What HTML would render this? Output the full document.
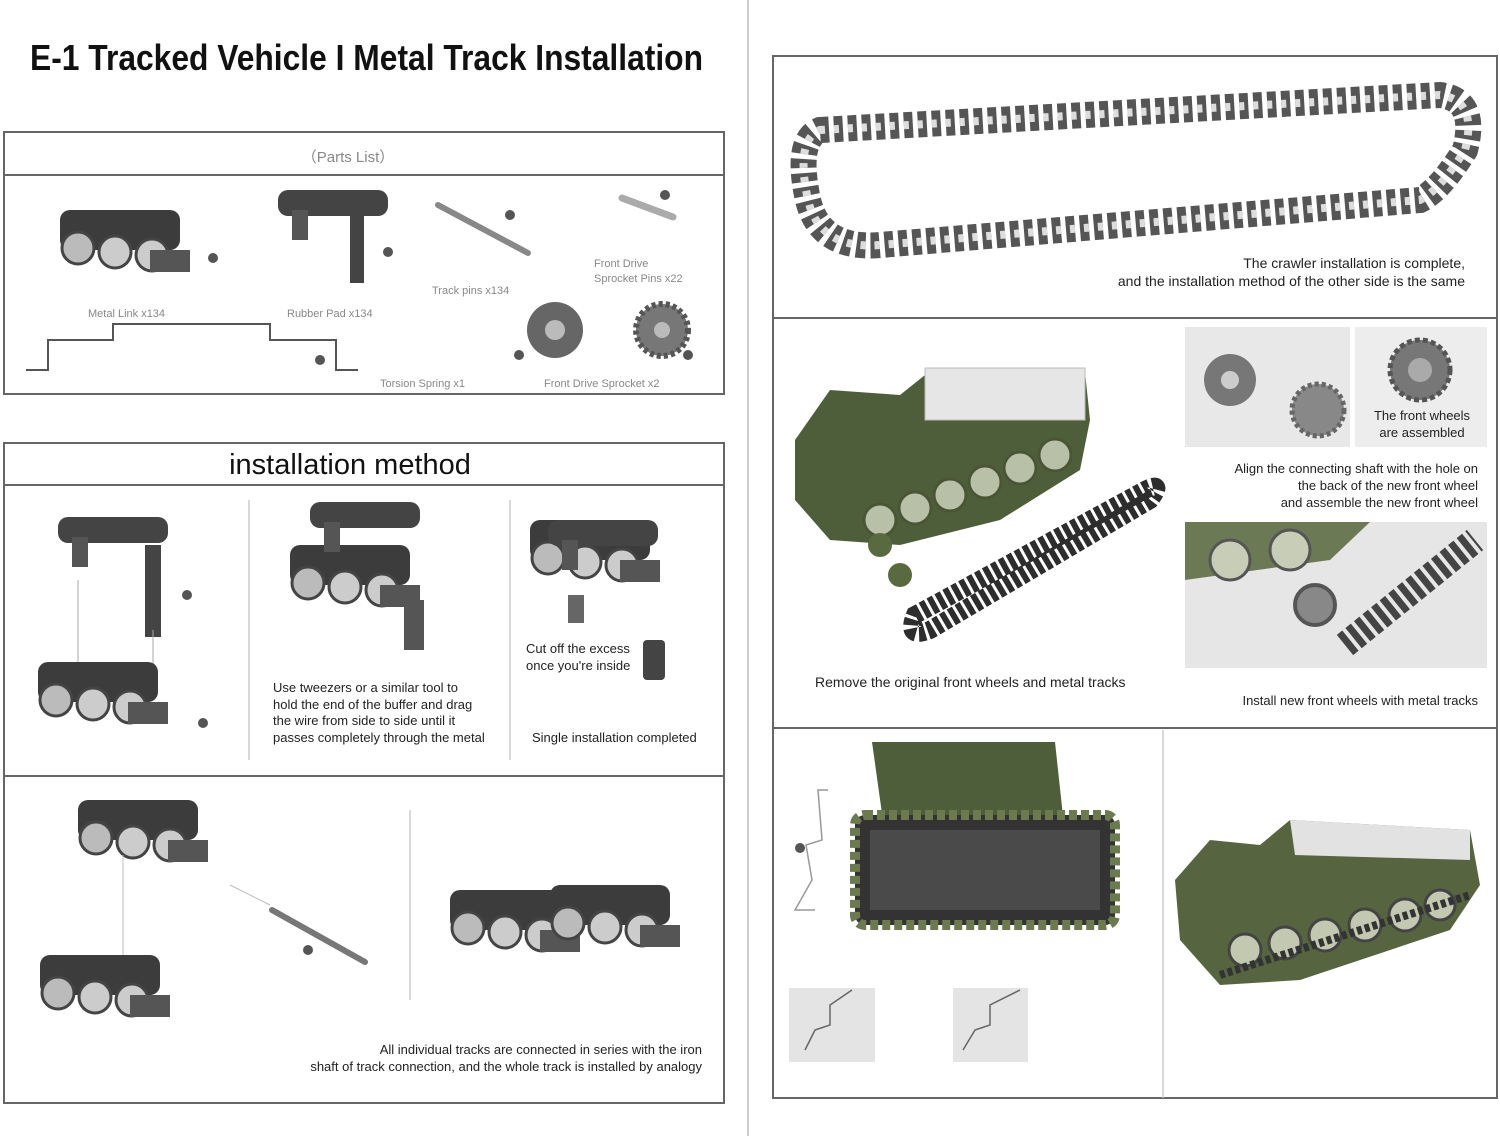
<!DOCTYPE html>
<html><head><meta charset="utf-8"><style>
html,body{margin:0;padding:0;background:#fff;}
svg{display:block;font-family:"Liberation Sans",sans-serif;}
</style></head><body>
<svg width="1500" height="1136" viewBox="0 0 1500 1136" xmlns="http://www.w3.org/2000/svg">
<defs>
<g id="link">
 <rect x="0" y="0" width="120" height="40" rx="10" fill="#3c3c3c"/>
 <circle cx="18" cy="38" r="16" fill="#bbb" stroke="#444" stroke-width="3"/>
 <circle cx="55" cy="42" r="16" fill="#ccc" stroke="#444" stroke-width="3"/>
 <circle cx="92" cy="45" r="16" fill="#ccc" stroke="#444" stroke-width="3"/>
 <rect x="90" y="40" width="40" height="22" fill="#555"/>
</g>
<g id="pad">
 <rect x="0" y="0" width="110" height="26" rx="10" fill="#444"/>
 <rect x="14" y="20" width="16" height="30" fill="#555"/>
</g>
</defs>
<!-- title -->
<text x="30" y="70" font-size="36" font-weight="bold" textLength="673" lengthAdjust="spacingAndGlyphs" fill="#111">E-1 Tracked Vehicle I Metal Track Installation</text>
<line x1="748" y1="0" x2="748" y2="1136" stroke="#ccc" stroke-width="2"/>

<!-- Parts list box -->
<rect x="4" y="132" width="720" height="262" fill="none" stroke="#666" stroke-width="2"/>
<line x1="4" y1="175" x2="724" y2="175" stroke="#666" stroke-width="2"/>
<text x="348" y="162" font-size="15" fill="#888" text-anchor="middle">（Parts List）</text>
<use href="#link" x="60" y="210"/>
<circle cx="213" cy="258" r="5" fill="#555"/>
<use href="#pad" x="278" y="190"/>
<rect x="350" y="215" width="14" height="68" fill="#444"/>
<circle cx="388" cy="252" r="5" fill="#555"/>
<line x1="438" y1="205" x2="528" y2="253" stroke="#888" stroke-width="6" stroke-linecap="round"/>
<circle cx="510" cy="215" r="5" fill="#555"/>
<line x1="622" y1="198" x2="673" y2="217" stroke="#aaa" stroke-width="7" stroke-linecap="round"/>
<circle cx="665" cy="195" r="5" fill="#555"/>
<text x="88" y="317" font-size="11" fill="#888">Metal Link x134</text>
<text x="287" y="317" font-size="11" fill="#888">Rubber Pad x134</text>
<text x="432" y="294" font-size="11" fill="#888">Track pins x134</text>
<text x="594" y="267" font-size="11" fill="#888">Front Drive</text>
<text x="594" y="282" font-size="11" fill="#888">Sprocket Pins x22</text>
<polyline points="26,370 48,370 48,340 113,340 113,324 270,324 270,340 336,340 336,370 358,370" fill="none" stroke="#555" stroke-width="2"/>
<circle cx="320" cy="360" r="5" fill="#555"/>
<circle cx="555" cy="330" r="28" fill="#666"/><circle cx="555" cy="330" r="10" fill="#bbb"/>
<circle cx="519" cy="355" r="5" fill="#555"/>
<circle cx="662" cy="330" r="26" fill="#777" stroke="#555" stroke-width="6" stroke-dasharray="4 3"/><circle cx="662" cy="330" r="8" fill="#bbb"/>
<circle cx="688" cy="355" r="5" fill="#555"/>
<text x="380" y="387" font-size="11" fill="#888">Torsion Spring x1</text>
<text x="544" y="387" font-size="11" fill="#888">Front Drive Sprocket x2</text>

<!-- installation method -->
<rect x="4" y="443" width="720" height="660" fill="none" stroke="#666" stroke-width="2"/>
<line x1="4" y1="485" x2="724" y2="485" stroke="#666" stroke-width="2"/>
<line x1="4" y1="776" x2="724" y2="776" stroke="#666" stroke-width="2"/>
<text x="350" y="474" font-size="29" fill="#111" text-anchor="middle">installation method</text>
<line x1="249" y1="500" x2="249" y2="760" stroke="#ccc" stroke-width="1.5"/>
<line x1="510" y1="500" x2="510" y2="760" stroke="#ccc" stroke-width="1.5"/>
<line x1="410" y1="810" x2="410" y2="1000" stroke="#ccc" stroke-width="1.5"/>

<use href="#pad" x="58" y="517"/>
<rect x="145" y="545" width="16" height="92" fill="#444"/>
<line x1="78" y1="580" x2="78" y2="670" stroke="#aaa"/><line x1="153" y1="630" x2="153" y2="680" stroke="#aaa"/>
<circle cx="187" cy="595" r="5" fill="#555"/>
<use href="#link" x="38" y="662"/>
<circle cx="203" cy="723" r="5" fill="#555"/>

<use href="#link" x="290" y="545"/>
<use href="#pad" x="310" y="502"/>
<rect x="404" y="600" width="20" height="50" fill="#555"/>
<text x="273" y="692" font-size="13" fill="#222">Use tweezers or a similar tool to</text>
<text x="273" y="709" font-size="13" fill="#222">hold the end of the buffer and drag</text>
<text x="273" y="725" font-size="13" fill="#222">the wire from side to side until it</text>
<text x="273" y="742" font-size="13" fill="#222">passes completely through the metal</text>

<use href="#link" x="530" y="520"/>
<use href="#pad" x="548" y="520"/>
<rect x="568" y="595" width="16" height="28" fill="#666"/>
<rect x="643" y="640" width="22" height="40" rx="4" fill="#444"/>
<text x="526" y="653" font-size="13" fill="#222">Cut off the excess</text>
<text x="526" y="670" font-size="13" fill="#222">once you're inside</text>
<text x="532" y="742" font-size="13" fill="#222">Single installation completed</text>

<use href="#link" x="78" y="800"/>
<use href="#link" x="40" y="955"/>
<line x1="123" y1="855" x2="123" y2="955" stroke="#bbb"/>
<line x1="230" y1="885" x2="270" y2="905" stroke="#bbb"/>
<line x1="272" y1="910" x2="365" y2="962" stroke="#777" stroke-width="6" stroke-linecap="round"/>
<circle cx="308" cy="950" r="5" fill="#555"/>
<use href="#link" x="450" y="890"/>
<use href="#link" x="550" y="885"/>
<text x="702" y="1054" font-size="13" fill="#222" text-anchor="end">All individual tracks are connected in series with the iron</text>
<text x="702" y="1071" font-size="13" fill="#222" text-anchor="end">shaft of track connection, and the whole track is installed by analogy</text>

<!-- right panel -->
<rect x="773" y="56" width="724" height="1042" fill="none" stroke="#666" stroke-width="2"/>
<line x1="773" y1="318" x2="1497" y2="318" stroke="#666" stroke-width="2"/>
<line x1="773" y1="728" x2="1497" y2="728" stroke="#666" stroke-width="2"/>
<line x1="1163" y1="730" x2="1163" y2="1098" stroke="#ccc" stroke-width="1.5"/>
<path d="M820,130 L1440,95 Q1478,100 1465,150 Q1440,190 1420,200 L880,245 Q820,250 808,200 Q795,140 820,130 Z" fill="none" stroke="#555" stroke-width="26" stroke-dasharray="9 5"/>
<path d="M820,130 L1440,95 Q1478,100 1465,150 Q1440,190 1420,200 L880,245 Q820,250 808,200 Q795,140 820,130 Z" fill="none" stroke="#ddd" stroke-width="8" stroke-dasharray="5 9"/>
<text x="1465" y="268" font-size="14" fill="#222" text-anchor="end">The crawler installation is complete,</text>
<text x="1465" y="286" font-size="14" fill="#222" text-anchor="end">and the installation method of the other side is the same</text>

<!-- tank middle -->
<polygon points="795,440 830,390 900,395 925,375 1085,372 1090,420 1080,470 1000,520 900,545 830,540 795,500" fill="#4f5e3a"/>
<rect x="925" y="368" width="160" height="52" fill="#e6e6e6" stroke="#bbb"/>
<g fill="#b9c0a8" stroke="#4a5536" stroke-width="3">
<circle cx="880" cy="520" r="16"/><circle cx="915" cy="508" r="16"/><circle cx="950" cy="495" r="16"/><circle cx="985" cy="482" r="16"/><circle cx="1020" cy="468" r="16"/><circle cx="1055" cy="455" r="16"/>
</g>
<path d="M915,615 L1145,490 Q1165,480 1150,500 L930,630 Q905,640 915,615 Z" fill="none" stroke="#2d2d2d" stroke-width="18" stroke-dasharray="6 3"/>
<circle cx="880" cy="545" r="12" fill="#5a6a40"/><circle cx="900" cy="575" r="12" fill="#5a6a40"/>
<text x="815" y="687" font-size="14" fill="#222">Remove the original front wheels and metal tracks</text>

<rect x="1185" y="327" width="165" height="120" fill="#e8e8e8"/>
<rect x="1355" y="327" width="132" height="120" fill="#ededed"/>
<circle cx="1230" cy="380" r="26" fill="#777"/><circle cx="1230" cy="380" r="9" fill="#ccc"/>
<circle cx="1318" cy="410" r="26" fill="#888" stroke="#666" stroke-width="5" stroke-dasharray="4 3"/>
<circle cx="1420" cy="370" r="30" fill="#777" stroke="#555" stroke-width="5" stroke-dasharray="5 3"/><circle cx="1420" cy="370" r="12" fill="#aaa"/>
<text x="1422" y="420" font-size="13" fill="#222" text-anchor="middle">The front wheels</text>
<text x="1422" y="437" font-size="13" fill="#222" text-anchor="middle">are assembled</text>
<text x="1478" y="473" font-size="13" fill="#222" text-anchor="end">Align the connecting shaft with the hole on</text>
<text x="1478" y="490" font-size="13" fill="#222" text-anchor="end">the back of the new front wheel</text>
<text x="1478" y="507" font-size="13" fill="#222" text-anchor="end">and assemble the new front wheel</text>
<rect x="1185" y="522" width="302" height="146" fill="#e6e6e6"/>
<polygon points="1185,522 1370,522 1330,560 1185,580" fill="#6b7a55"/>
<circle cx="1230" cy="560" r="20" fill="#c8cdb8" stroke="#555" stroke-width="3"/><circle cx="1290" cy="550" r="20" fill="#c8cdb8" stroke="#555" stroke-width="3"/>
<circle cx="1315" cy="605" r="20" fill="#888" stroke="#555" stroke-width="4"/>
<path d="M1345,645 L1475,540" stroke="#444" stroke-width="26" stroke-dasharray="7 4"/>
<text x="1478" y="705" font-size="13" fill="#222" text-anchor="end">Install new front wheels with metal tracks</text>

<!-- bottom right -->
<polygon points="872,742 1055,742 1065,835 885,835" fill="#4f5e3a"/>
<polyline points="828,790 818,790 822,840 806,845 812,880 795,910 815,910" fill="none" stroke="#999" stroke-width="1.5"/>
<circle cx="800" cy="848" r="5" fill="#555"/>
<rect x="855" y="815" width="260" height="110" rx="10" fill="#333"/>
<rect x="870" y="830" width="230" height="80" fill="#4a4a4a"/>
<rect x="855" y="815" width="260" height="110" rx="10" fill="none" stroke="#6c7a50" stroke-width="10" stroke-dasharray="8 4"/>
<rect x="789" y="988" width="86" height="74" fill="#e4e4e4"/>
<rect x="953" y="988" width="75" height="74" fill="#e4e4e4"/>
<polyline points="805,1050 815,1030 830,1025 830,1005 852,990" fill="none" stroke="#666" stroke-width="1.5"/>
<polyline points="963,1050 975,1030 990,1025 990,1005 1020,990" fill="none" stroke="#666" stroke-width="1.5"/>
<polygon points="1175,880 1210,840 1260,845 1290,820 1470,830 1480,885 1450,930 1300,980 1220,985 1180,940" fill="#56653f"/>
<polygon points="1290,820 1470,830 1470,860 1295,855" fill="#e2e2e2"/>
<g fill="#c3c8b0" stroke="#444" stroke-width="3">
<circle cx="1245" cy="950" r="16"/><circle cx="1285" cy="943" r="16"/><circle cx="1325" cy="935" r="16"/><circle cx="1365" cy="925" r="16"/><circle cx="1405" cy="915" r="16"/><circle cx="1440" cy="905" r="15"/>
</g>
<path d="M1220,975 L1470,895" stroke="#333" stroke-width="8" stroke-dasharray="5 3"/>
</svg>
</body></html>
